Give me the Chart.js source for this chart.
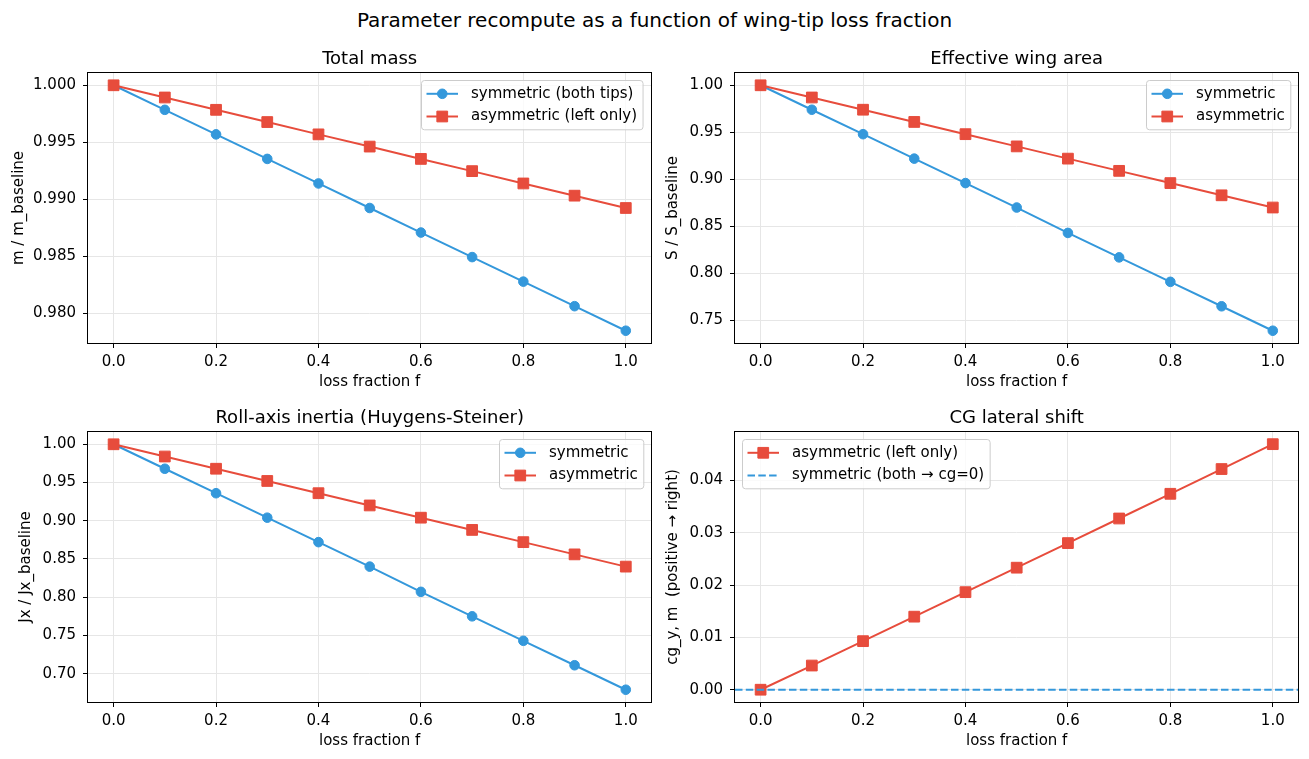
<!DOCTYPE html>
<html><head><meta charset="utf-8">
<script src="https://cdn.jsdelivr.net/npm/chart.js@4.4.1/dist/chart.umd.min.js"></script>
<style>
html,body{margin:0;padding:0;background:#fff;}
body{width:1309px;height:759px;position:relative;overflow:hidden;font-family:"DejaVu Sans",sans-serif;}
canvas{position:absolute;}
#suptitle{position:absolute;left:0;width:1309px;top:8px;text-align:center;font-size:20px;line-height:24px;color:#000;white-space:nowrap;}
</style></head><body>
<div id="suptitle">Parameter recompute as a function of wing-tip loss fraction</div>
<canvas id="c1" width="660" height="360" style="left:0px;top:40px"></canvas>
<canvas id="c2" width="660" height="360" style="left:647px;top:40px"></canvas>
<canvas id="c3" width="660" height="360" style="left:0px;top:399px"></canvas>
<canvas id="c4" width="660" height="360" style="left:647px;top:399px"></canvas>
<script>
// ---------------- data ----------------
const lossFraction = [0.0, 0.1, 0.2, 0.3, 0.4, 0.5, 0.6, 0.7, 0.8, 0.9, 1.0];
const xLimits = [-0.05, 1.05];
const fTicks = [0.0, 0.2, 0.4, 0.6, 0.8, 1.0];

const massSym  = [1.0, 0.99785, 0.9957, 0.99355, 0.9914, 0.98925, 0.9871, 0.98495, 0.9828, 0.98065, 0.9785];
const massAsym = [1.0, 0.99893, 0.99785, 0.99678, 0.9957, 0.99463, 0.99355, 0.99248, 0.9914, 0.99033, 0.98925];
const massTicks = [0.980, 0.985, 0.990, 0.995, 1.000];
const massLimits = [0.977425, 1.001075];

const areaSym  = [1.0, 0.974, 0.948, 0.922, 0.896, 0.870, 0.843, 0.817, 0.791, 0.765, 0.739];
const areaAsym = [1.0, 0.987, 0.974, 0.961, 0.948, 0.935, 0.922, 0.909, 0.896, 0.883, 0.870];
const areaTicks = [0.75, 0.80, 0.85, 0.90, 0.95, 1.00];
const areaLimits = [0.72595, 1.01305];

const rollSym  = [1.0, 0.968, 0.936, 0.904, 0.872, 0.840, 0.807, 0.775, 0.743, 0.711, 0.679];
const rollAsym = [1.0, 0.984, 0.968, 0.952, 0.936, 0.920, 0.904, 0.888, 0.872, 0.856, 0.840];
const rollTicks = [0.70, 0.75, 0.80, 0.85, 0.90, 0.95, 1.00];
const rollLimits = [0.66295, 1.01605];

const cgAsym = [0.0, 0.00462, 0.00928, 0.01396, 0.01864, 0.02332, 0.02802, 0.03272, 0.03744, 0.04217, 0.04692];
const cgSym  = [0.0, 0.0];           // symmetric loss keeps cg on the centre line (spans the axis)
const cgTicks = [0.00, 0.01, 0.02, 0.03, 0.04];
const cgLimits = [-0.002346, 0.049246];

// ---------------- style ----------------
const FONT = '"DejaVu Sans", sans-serif';
const BLUE = '#3498db', RED = '#e74c3c', GRID = '#e6e6e6';
const FS = 15;
Chart.defaults.font.family = FONT;
Chart.defaults.color = '#000';

const pts = (xs, ys) => xs.map((x, i) => ({x: x, y: ys[i]}));

function lineSet(label, xs, ys, color, marker, order, dash) {
  const r = marker === 'rect' ? 7.6 : (marker ? 4.8 : 0);
  return {
    label: label, data: pts(xs, ys), borderColor: color, backgroundColor: color,
    borderWidth: 2, tension: 0, order: order,
    borderDash: dash || [],
    pointStyle: marker || 'circle',
    pointRadius: r, pointHoverRadius: r,
    pointBorderWidth: 1, pointBorderColor: color, pointBackgroundColor: color
  };
}

const framePlugin = {
  id: 'frame',
  afterDatasetsDraw(chart) {
    const ctx = chart.ctx, a = chart.chartArea;
    const l = Math.round(a.left) - 0.5, t = Math.round(a.top) - 0.5;
    const r = Math.round(a.right) + 0.5, b = Math.round(a.bottom) + 0.5;
    ctx.save();
    ctx.strokeStyle = '#000'; ctx.lineWidth = 1;
    ctx.strokeRect(l, t, r - l, b - t);
    ctx.restore();
  }
};

const boxLegendPlugin = {
  id: 'boxLegend',
  afterDatasetsDraw(chart, args, opts) {
    const ctx = chart.ctx, a = chart.chartArea;
    const items = chart.data.datasets;
    ctx.save();
    ctx.font = FS + 'px ' + FONT;
    let maxW = 0;
    items.forEach(d => { maxW = Math.max(maxW, ctx.measureText(d.label).width); });
    const rowH = 22.7, padY = 13.3;
    const boxW = 49.5 + maxW + 6;
    const boxH = padY * 2 + rowH * (items.length - 1);
    const x0 = Math.round(opts.loc === 'left' ? a.left + 7 : a.right - 8.5 - boxW) + 0.5;
    const y0 = Math.round(a.top + 7) + 0.5;
    const rad = 3;
    ctx.beginPath();
    ctx.moveTo(x0 + rad, y0);
    ctx.lineTo(x0 + boxW - rad, y0); ctx.arcTo(x0 + boxW, y0, x0 + boxW, y0 + rad, rad);
    ctx.lineTo(x0 + boxW, y0 + boxH - rad); ctx.arcTo(x0 + boxW, y0 + boxH, x0 + boxW - rad, y0 + boxH, rad);
    ctx.lineTo(x0 + rad, y0 + boxH); ctx.arcTo(x0, y0 + boxH, x0, y0 + boxH - rad, rad);
    ctx.lineTo(x0, y0 + rad); ctx.arcTo(x0, y0, x0 + rad, y0, rad);
    ctx.closePath();
    ctx.fillStyle = 'rgba(255,255,255,0.8)'; ctx.fill();
    ctx.strokeStyle = '#cccccc'; ctx.lineWidth = 1; ctx.stroke();
    items.forEach((d, i) => {
      const y = y0 + padY + rowH * i;
      ctx.strokeStyle = d.borderColor; ctx.lineWidth = d.borderWidth;
      ctx.setLineDash(d.borderDash || []);
      ctx.beginPath(); ctx.moveTo(x0 + 5, y); ctx.lineTo(x0 + 36.5, y); ctx.stroke();
      ctx.setLineDash([]);
      if (d.pointRadius > 0) {
        ctx.fillStyle = d.pointBackgroundColor;
        ctx.strokeStyle = d.pointBorderColor;
        ctx.lineWidth = d.pointBorderWidth;
        Chart.helpers.drawPoint(ctx, {
          pointStyle: d.pointStyle, rotation: 0, radius: d.pointRadius, borderWidth: d.pointBorderWidth
        }, x0 + 20.75, y);
      }
      ctx.fillStyle = '#000';
      ctx.textBaseline = 'middle'; ctx.textAlign = 'left';
      ctx.fillText(d.label, x0 + 49.5, y);
    });
    ctx.restore();
  }
};

function makeChart(cfg) {
  const el = document.getElementById(cfg.id);
  return new Chart(el, {
    type: 'line',
    data: {datasets: cfg.datasets},
    options: {
      responsive: false, maintainAspectRatio: false, animation: false, devicePixelRatio: 1,
      events: [],
      layout: {padding: {left: 0, right: 8, top: 0, bottom: 9}},
      plugins: {
        legend: {display: false}, tooltip: {enabled: false},
        title: {display: true, fullSize: false, text: cfg.title, color: '#000',
                font: {family: FONT, size: 18, weight: 'normal'}, padding: {top: 8.2, bottom: 3.2}},
        boxLegend: {loc: cfg.legendLoc}
      },
      scales: {
        x: {
          type: 'linear', min: xLimits[0], max: xLimits[1],
          afterBuildTicks: s => { s.ticks = fTicks.map(v => ({value: v})); },
          afterFit: s => { s.height = 48; },
          ticks: {callback: v => Number(v).toFixed(1), font: {family: FONT, size: FS}, color: '#000',
                  padding: 5, maxRotation: 0, autoSkip: false},
          grid: {color: GRID, lineWidth: 1, drawTicks: true, tickLength: 5, tickColor: '#000', tickWidth: 1},
          border: {display: false},
          title: {display: true, text: 'loss fraction f', color: '#000', font: {family: FONT, size: FS},
                  padding: {top: 0, bottom: 0}}
        },
        y: {
          type: 'linear', min: cfg.yLimits[0], max: cfg.yLimits[1],
          afterBuildTicks: s => { s.ticks = cfg.yTicks.map(v => ({value: v})); },
          afterFit: s => { s.width = 88; },
          ticks: {callback: v => Number(v).toFixed(cfg.dec), font: {family: FONT, size: FS}, color: '#000',
                  padding: 7, autoSkip: false},
          grid: {color: GRID, lineWidth: 1, drawTicks: true, tickLength: 5, tickColor: '#000', tickWidth: 1},
          border: {display: false},
          title: {display: true, text: cfg.yTitle, color: '#000', font: {family: FONT, size: FS},
                  padding: {top: cfg.yPad, bottom: 0}}
        }
      }
    },
    plugins: [framePlugin, boxLegendPlugin]
  });
}

makeChart({
  id: 'c1', title: 'Total mass', yTitle: 'm / m_baseline', yLimits: massLimits, yTicks: massTicks, dec: 3,
  yPad: 9.7, legendLoc: 'right',
  datasets: [
    lineSet('symmetric (both tips)', lossFraction, massSym, BLUE, 'circle', 1),
    lineSet('asymmetric (left only)', lossFraction, massAsym, RED, 'rect', 0)
  ]
});
makeChart({
  id: 'c2', title: 'Effective wing area', yTitle: 'S / S_baseline', yLimits: areaLimits, yTicks: areaTicks, dec: 2,
  yPad: 17.3, legendLoc: 'right',
  datasets: [
    lineSet('symmetric', lossFraction, areaSym, BLUE, 'circle', 1),
    lineSet('asymmetric', lossFraction, areaAsym, RED, 'rect', 0)
  ]
});
makeChart({
  id: 'c3', title: 'Roll-axis inertia (Huygens-Steiner)', yTitle: 'Jx / Jx_baseline', yLimits: rollLimits, yTicks: rollTicks, dec: 2,
  yPad: 17.3, legendLoc: 'right',
  datasets: [
    lineSet('symmetric', lossFraction, rollSym, BLUE, 'circle', 1),
    lineSet('asymmetric', lossFraction, rollAsym, RED, 'rect', 0)
  ]
});
makeChart({
  id: 'c4', title: 'CG lateral shift', yTitle: 'cg_y, m  (positive \u2192 right)', yLimits: cgLimits, yTicks: cgTicks, dec: 2,
  yPad: 17.3, legendLoc: 'left',
  datasets: [
    lineSet('asymmetric (left only)', lossFraction, cgAsym, RED, 'rect', 1),
    lineSet('symmetric (both \u2192 cg=0)', xLimits, cgSym, BLUE, null, 0, [7.5, 3.3])
  ]
});
</script>
</body></html>
